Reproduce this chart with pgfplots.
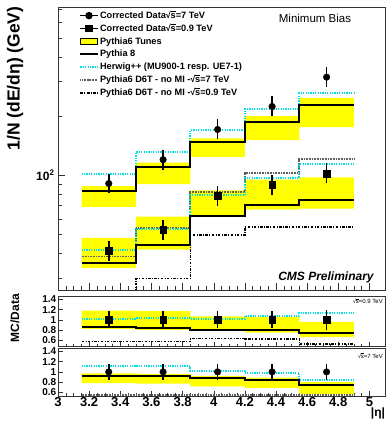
\documentclass[border=0pt]{standalone}
\usepackage{pgfplots}
\pgfplotsset{compat=1.18}
\usepackage{fontspec}
\setmainfont{Liberation Sans}
\definecolor{hwcyan}{RGB}{0,225,230}
\definecolor{ryellow}{RGB}{255,255,0}
\definecolor{nomigray}{RGB}{95,95,95}
\newcommand{\rs}{√\kern-0.04em\rlap{\rule[0.74em]{0.56em}{0.06em}}s}
\pgfplotsset{
 cmsbase/.style={scale only axis, xmin=3, xmax=5.1,
   xtick={3,3.2,3.4,3.6,3.8,4,4.2,4.4,4.6,4.8,5}, minor x tick num=3,
   xtick pos=bottom, ytick pos=left, tick align=inside,
   major tick length=7pt, minor tick length=4pt,
   axis line style={line width=0.5pt, black!80},
   every tick/.style={black!80, line width=0.4pt},
   /pgf/number format/assume math mode=true, clip=true},
 p8/.style={black, line width=2pt, const plot, no marks},
 hw/.style={hwcyan, line width=2pt, dash pattern=on 1.2pt off 1.2pt, const plot, no marks},
 nomi7/.style={nomigray, line width=1.8pt, dash pattern=on 0.8pt off 0.8pt, const plot, no marks},
 nomi09/.style={black, line width=1.6pt, dash pattern=on 2.5pt off 1.5pt on 0.8pt off 1.5pt, const plot, no marks},
 band/.style={fill=ryellow, draw=none},
 dat/.style={black, only marks, mark size=3.3pt, mark options={solid, fill=black},
   error bars/y dir=both, error bars/y explicit, error bars/error mark=none,
   error bars/error bar style={line width=1.6pt, black}},
}
\begin{document}
\begin{tikzpicture}
\useasboundingbox (0pt,0pt) rectangle (386pt,421pt);
% ---------------- main panel
\begin{axis}[cmsbase, at={(58pt,131pt)}, anchor=south west, width=327pt, height=283pt,
  ymode=log, ymin=26, ymax=720, xticklabels={},
  ytick={100}, yticklabels={\bfseries 10\textsuperscript{2}},
  minor ytick={30,40,50,60,70,80,90,200,300,400,500,600,700},
  yticklabel style={font=\fontsize{12}{12}\selectfont},
  legend style={draw=none, fill=none, at={(0.065,0.993)}, anchor=north west,
    font=\bfseries\fontsize{9.2}{9.2}\selectfont, row sep=0pt, inner sep=0pt,
    nodes={inner sep=1.5pt, text height=7.6pt, text depth=2.3pt}, cells={anchor=west}},
  legend cell align=left]
\addlegendimage{black, line width=1.4pt, mark=*, mark size=3pt}
\addlegendentry{Corrected Data\rs=7 TeV}
\addlegendimage{black, line width=1.4pt, mark=square*, mark size=3pt}
\addlegendentry{Corrected Data\rs=0.9 TeV}
\addlegendimage{area legend, fill=ryellow, draw=none}
\addlegendentry{Pythia6 Tunes}
\addlegendimage{black, line width=2pt}
\addlegendentry{Pythia 8}
\addlegendimage{hwcyan, line width=2pt, dash pattern=on 1.2pt off 1.2pt}
\addlegendentry{Herwig++ (MU900-1 resp. UE7-1)}
\addlegendimage{nomigray, line width=1.8pt, dash pattern=on 0.8pt off 0.8pt}
\addlegendentry{Pythia6 D6T - no MI -\rs=7 TeV}
\addlegendimage{black, line width=1.6pt, dash pattern=on 2.5pt off 1.5pt on 0.8pt off 1.5pt}
\addlegendentry{Pythia6 D6T - no MI -\rs=0.9 TeV}
% bands
\addplot[band, forget plot] coordinates {(3.152,88)(3.5,88)(3.5,116)(3.85,116)(3.85,154)(4.2,154)(4.2,200)(4.55,200)(4.55,248)(4.9,248)(4.9,176)(4.55,176)(4.55,151)(4.2,151)(4.2,124)(3.85,124)(3.85,90)(3.5,90)(3.5,69)(3.152,69)} -- cycle;
\addplot[band, forget plot] coordinates {(3.152,48)(3.5,48)(3.5,61.5)(3.85,61.5)(3.85,83.8)(4.2,83.8)(4.2,95)(4.55,95)(4.55,97.5)(4.9,97.5)(4.9,67.6)(4.55,67.6)(4.55,66.7)(4.2,66.7)(4.2,61.9)(3.85,61.9)(3.85,41.8)(3.5,41.8)(3.5,33.6)(3.152,33.6)} -- cycle;
% no MI
\addplot[nomi7, forget plot] coordinates {(3.152,38.5)(3.5,53.8)(3.85,82)(4.2,103)(4.55,121)(4.9,121)};
\addplot[nomi09, forget plot] coordinates {(3.152,23)(3.5,29.7)(3.85,49.5)(4.2,54.5)(4.55,54.5)(4.9,54.5)};
% Herwig
\addplot[hw, forget plot] coordinates {(3.152,101)(3.5,131)(3.85,170)(4.2,217)(4.55,261)(4.9,261)};
\addplot[hw, forget plot] coordinates {(3.152,41.4)(3.5,53.5)(3.85,79)(4.2,97)(4.55,114)(4.9,114)};
% Pythia 8
\addplot[p8, forget plot] coordinates {(3.152,83)(3.5,109.5)(3.85,148)(4.2,187)(4.55,229)(4.9,229)};
\addplot[p8, forget plot] coordinates {(3.152,35.5)(3.5,44)(3.85,62.3)(4.2,70.5)(4.55,74.5)(4.9,74.5)};
% data
\addplot[dat, mark=*, forget plot] coordinates {
 (3.326,90.7) += (0,11.3) -= (0,10)
 (3.675,120) += (0,15) -= (0,13.2)
 (4.025,171) += (0,21.4) -= (0,18.8)
 (4.375,224) += (0,28) -= (0,24.6)
 (4.725,316) += (0,39.5) -= (0,34.8)};
\addplot[dat, mark=square*, forget plot] coordinates {
 (3.326,41.1) += (0,5.1) -= (0,4.5)
 (3.675,52.8) += (0,6.6) -= (0,5.8)
 (4.025,78.4) += (0,9.8) -= (0,8.6)
 (4.375,89.6) += (0,11.2) -= (0,9.9)
 (4.725,102) += (0,12.8) -= (0,11.2)};
\end{axis}
% ---------------- ratio 0.9 TeV
\begin{axis}[cmsbase, at={(58pt,74.3pt)}, anchor=south west, width=327pt, height=50.7pt,
  ymin=0.47, ymax=1.47, ytick={0.6,0.8,1,1.2,1.4}, yticklabels={0.6,0.8,1,1.2,1.4},
  xticklabels={}, major tick length=5pt, minor tick length=3pt,
  yticklabel style={font=\bfseries\fontsize{10}{10}\selectfont, inner sep=1.5pt}]
\addplot[band] coordinates {(3.152,1.18)(3.5,1.18)(3.5,1.17)(3.85,1.17)(3.85,1.07)(4.2,1.07)(4.2,1.06)(4.55,1.06)(4.55,0.96)(4.9,0.96)(4.9,0.66)(4.55,0.66)(4.55,0.75)(4.2,0.75)(4.2,0.79)(3.85,0.79)(3.85,0.80)(3.5,0.80)(3.5,0.82)(3.152,0.82)} -- cycle;
\addplot[nomi09] coordinates {(3.152,0.57)(3.5,0.57)(3.85,0.63)(4.2,0.62)(4.55,0.52)(4.9,0.52)};
\addplot[hw] coordinates {(3.152,1.02)(3.5,1.03)(3.85,1.02)(4.2,1.08)(4.55,1.13)(4.9,1.13)};
\addplot[p8] coordinates {(3.152,0.86)(3.5,0.84)(3.85,0.80)(4.2,0.79)(4.55,0.74)(4.9,0.74)};
\addplot[dat, mark=square*] coordinates {
 (3.326,1) +- (0,0.17) (3.675,1) +- (0,0.17) (4.025,1) +- (0,0.17)
 (4.375,1) +- (0,0.17) (4.725,1) +- (0,0.2)};
\end{axis}
% ---------------- ratio 7 TeV
\begin{axis}[cmsbase, at={(58pt,25pt)}, anchor=south west, width=327pt, height=47.7pt,
  ymin=0.53, ymax=1.46, ytick={0.6,0.8,1,1.2,1.4}, yticklabels={0.6,0.8,1,1.2,1.4},
  xticklabels={3,3.2,3.4,3.6,3.8,4,4.2,4.4,4.6,4.8,5},
  major tick length=5pt, minor tick length=3pt,
  yticklabel style={font=\bfseries\fontsize{10}{10}\selectfont, inner sep=1.5pt},
  xticklabel style={font=\bfseries\fontsize{13}{13}\selectfont, inner sep=1pt}]
\addplot[band] coordinates {(3.152,0.97)(3.5,0.97)(3.5,0.96)(3.85,0.96)(3.85,0.92)(4.2,0.92)(4.2,0.89)(4.55,0.89)(4.55,0.80)(4.9,0.80)(4.9,0.56)(4.55,0.56)(4.55,0.69)(4.2,0.69)(4.2,0.72)(3.85,0.72)(3.85,0.77)(3.5,0.77)(3.5,0.78)(3.152,0.78)} -- cycle;
\addplot[nomi7] coordinates {(3.152,0.545)(3.5,0.545)(3.85,0.545)(4.2,0.545)(4.55,0.545)(4.9,0.545)};
\addplot[hw] coordinates {(3.152,1.12)(3.5,1.11)(3.85,1.02)(4.2,0.98)(4.55,0.84)(4.9,0.84)};
\addplot[p8] coordinates {(3.152,0.92)(3.5,0.92)(3.85,0.88)(4.2,0.85)(4.55,0.75)(4.9,0.75)};
\addplot[dat, mark=*] coordinates {
 (3.326,1) +- (0,0.16) (3.675,1) +- (0,0.16) (4.025,1) +- (0,0.16)
 (4.375,1) +- (0,0.16) (4.725,1) +- (0,0.16)};
\end{axis}
% ---------------- texts
\node[rotate=90, anchor=east, font=\bfseries\fontsize{17.5}{17.5}\selectfont] at (15pt,418pt) {1/N (dE/dη) (GeV)};
\node[rotate=90, font=\bfseries\fontsize{12}{12}\selectfont] at (15pt,103pt) {MC/Data};
\node[font=\fontsize{11.5}{12}\selectfont] at (315pt,403pt) {Minimum Bias};
\node[font=\bfseries\itshape\fontsize{12}{12}\selectfont] at (326pt,143.3pt) {CMS Preliminary};
\node[anchor=east, font=\fontsize{6}{6}\selectfont, inner sep=0pt] at (383pt,120pt) {\rs=0.9 TeV};
\node[anchor=east, font=\fontsize{6}{6}\selectfont, inner sep=0pt] at (383pt,65.3pt) {\rs=7 TeV};
\node[font=\bfseries\fontsize{12}{12}\selectfont] at (378pt,8pt) {|η|};
\end{tikzpicture}
\end{document}
